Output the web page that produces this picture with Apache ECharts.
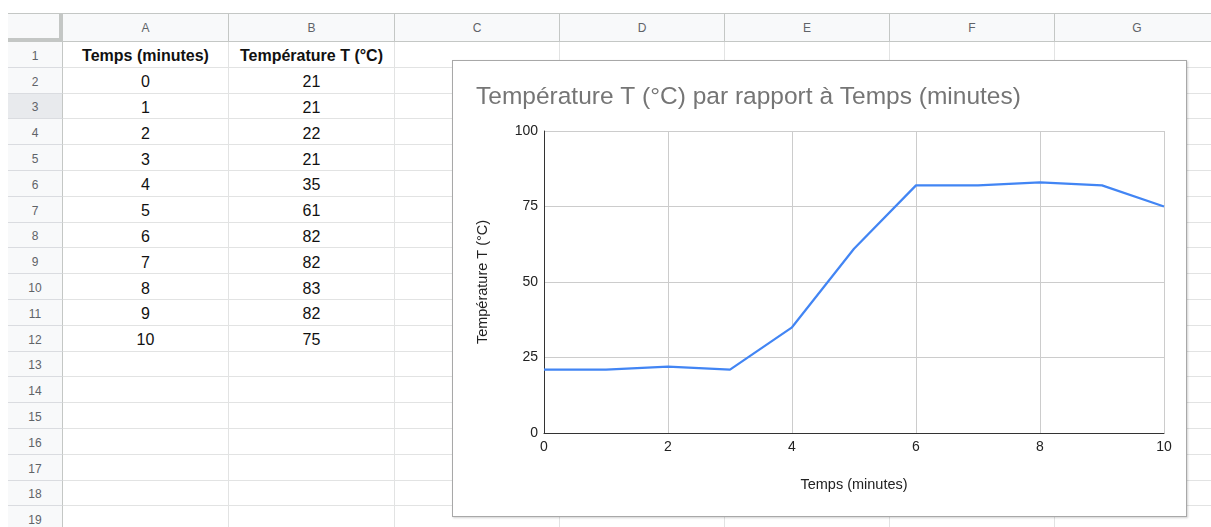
<!DOCTYPE html>
<html>
<head>
<meta charset="utf-8">
<script src="https://cdn.jsdelivr.net/npm/echarts@6/dist/echarts.min.js"></script>
<style>
  html,body{margin:0;padding:0;background:#fff;width:1211px;height:527px;overflow:hidden;font-family:"Liberation Sans",Arial,sans-serif;}
  #sheet{position:absolute;left:0;top:0;width:1211px;height:527px;}
  .c{position:absolute;box-sizing:border-box;display:flex;align-items:center;justify-content:center;white-space:nowrap;}
  #chartBox{position:absolute;left:452px;top:60px;width:735px;height:457px;box-sizing:border-box;border:1px solid #a8a8a8;background:#fff;box-shadow:1px 1px 2px rgba(0,0,0,0.18);}
  #chart{position:absolute;left:0;top:0;width:733px;height:455px;}
</style>
</head>
<body>
<div id="sheet"></div>
<div id="chartBox"><div id="chart"></div></div>
<script>
// ---- data ----
const headerTemps = "Temps (minutes)";
const headerTemp = "Température T (°C)";
const chartTitle = "Température T (°C) par rapport à Temps (minutes)";
const times = [0, 1, 2, 3, 4, 5, 6, 7, 8, 9, 10];
const temperatures = [21, 21, 22, 21, 35, 61, 82, 82, 83, 82, 75];
const columnLetters = ["A", "B", "C", "D", "E", "F", "G"];
const rowCount = 19;

// ---- spreadsheet layout ----
const sheet = document.getElementById('sheet');
const colX = [63, 229, 395, 560, 725, 890, 1055, 1220];
const rowHeaderLeft = 8;
const headTop = 13, headBottom = 42, rowH = 25.8;
function cell(x, y, w, h, text, style) {
  const d = document.createElement('div');
  d.className = 'c';
  d.style.left = x + 'px'; d.style.top = y + 'px';
  d.style.width = w + 'px'; d.style.height = h + 'px';
  Object.assign(d.style, style || {});
  if (text !== undefined && text !== null) d.textContent = text;
  sheet.appendChild(d);
  return d;
}
// corner
cell(rowHeaderLeft, headTop, colX[0] - rowHeaderLeft, headBottom - headTop, null,
  {background:'#f8f9fa', borderTop:'1px solid #c4c7c5', borderRight:'4px solid #c4c7c5', borderBottom:'4px solid #c4c7c5'});
// column headers
for (let i = 0; i < columnLetters.length; i++) {
  cell(colX[i], headTop, colX[i+1] - colX[i], headBottom - headTop, columnLetters[i],
    {background:'#f8f9fa', borderTop:'1px solid #c4c7c5', borderRight:'1px solid #c4c7c5', borderBottom:'1px solid #c4c7c5', color:'#5f6368', fontSize:'12px'});
}
// rows
for (let r = 1; r <= rowCount; r++) {
  const y = headBottom + (r - 1) * rowH;
  cell(rowHeaderLeft, y, colX[0] - rowHeaderLeft, rowH, String(r),
    {background: r === 3 ? '#e8eaed' : '#f8f9fa', borderRight:'1px solid #c4c7c5', borderBottom:'1px solid #dadce0', color:'#5f6368', fontSize:'12px', paddingTop:'3px'});
  for (let i = 0; i < columnLetters.length; i++) {
    let txt = null, st = {borderRight:'1px solid #e2e3e3', borderBottom:'1px solid #e2e3e3', color:'#111', fontSize:'16px', paddingTop:'4px'};
    if (r === 1 && i === 0) { txt = headerTemps; st.fontWeight = 'bold'; }
    if (r === 1 && i === 1) { txt = headerTemp; st.fontWeight = 'bold'; }
    if (r >= 2 && r - 2 < times.length) {
      if (i === 0) txt = String(times[r - 2]);
      if (i === 1) txt = String(temperatures[r - 2]);
    }
    cell(colX[i], y, colX[i+1] - colX[i], rowH, txt, st);
  }
}

// ---- chart ----
const chart = echarts.init(document.getElementById('chart'), null, {renderer:'canvas'});
const font = '"Liberation Sans", Arial, sans-serif';
chart.setOption({
  animation: false,
  backgroundColor: '#fff',
  title: {
    text: chartTitle, left: 18, top: 19,
    textStyle: {fontFamily: font, fontSize: 24.5, fontWeight: 'normal', color: '#757575'}
  },
  grid: {left: 91, right: 22, top: 70, bottom: 83},
  xAxis: {
    type: 'value', min: 0, max: 10, interval: 2,
    name: headerTemps, nameLocation: 'middle', nameGap: 44,
    nameTextStyle: {fontFamily: font, fontSize: 14.5, color: '#222'},
    axisLine: {show: true, lineStyle: {color: '#333', width: 1}},
    axisTick: {show: false},
    axisLabel: {fontFamily: font, fontSize: 14, color: '#222', margin: 7},
    splitLine: {show: true, lineStyle: {color: '#cccccc', width: 1}}
  },
  yAxis: {
    type: 'value', min: 0, max: 100, interval: 25,
    name: headerTemp, nameLocation: 'middle', nameGap: 54, nameRotate: 90,
    nameTextStyle: {fontFamily: font, fontSize: 14.5, color: '#222'},
    axisLine: {show: true, lineStyle: {color: '#333', width: 1}},
    axisTick: {show: false},
    axisLabel: {fontFamily: font, fontSize: 14, color: '#222', margin: 6},
    splitLine: {show: true, lineStyle: {color: '#cccccc', width: 1}}
  },
  series: [{
    type: 'line',
    data: times.map((t, i) => [t, temperatures[i]]),
    showSymbol: false, symbol: 'none',
    lineStyle: {color: '#4285f4', width: 2.2},
    itemStyle: {color: '#4285f4'}
  }]
});
</script>
</body>
</html>
